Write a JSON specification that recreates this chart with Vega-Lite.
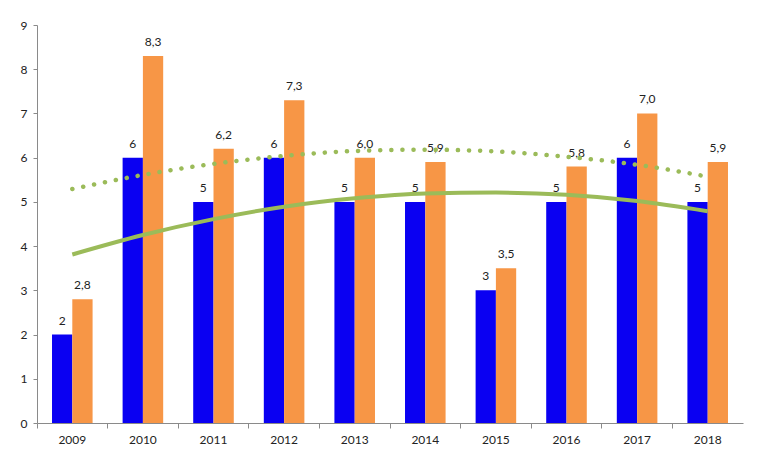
{
  "$schema": "https://vega.github.io/schema/vega-lite/v6.json",
  "width": 706,
  "height": 398,
  "autosize": {"type": "none"},
  "padding": {"left": 37, "top": 25, "right": 22, "bottom": 40},
  "background": "white",
  "config": {
    "view": {"stroke": null},
    "font": "Lato",
    "axis": {
      "labelFont": "Lato",
      "labelFontSize": 12,
      "labelColor": "#222222",
      "domainColor": "#8a8a8a",
      "tickColor": "#8a8a8a",
      "grid": false,
      "title": null
    }
  },
  "datasets": {
    "bars": [
      {"year": "2009", "series": "a", "value": 2},
      {"year": "2009", "series": "b", "value": 2.8},
      {"year": "2010", "series": "a", "value": 6},
      {"year": "2010", "series": "b", "value": 8.3},
      {"year": "2011", "series": "a", "value": 5},
      {"year": "2011", "series": "b", "value": 6.2},
      {"year": "2012", "series": "a", "value": 6},
      {"year": "2012", "series": "b", "value": 7.3},
      {"year": "2013", "series": "a", "value": 5},
      {"year": "2013", "series": "b", "value": 6.0},
      {"year": "2014", "series": "a", "value": 5},
      {"year": "2014", "series": "b", "value": 5.9},
      {"year": "2015", "series": "a", "value": 3},
      {"year": "2015", "series": "b", "value": 3.5},
      {"year": "2016", "series": "a", "value": 5},
      {"year": "2016", "series": "b", "value": 5.8},
      {"year": "2017", "series": "a", "value": 6},
      {"year": "2017", "series": "b", "value": 7.0},
      {"year": "2018", "series": "a", "value": 5},
      {"year": "2018", "series": "b", "value": 5.9}
    ],
    "trend": [
      {"year": "2009", "a": 3.81, "b": 5.29},
      {"year": "2010", "a": 4.25, "b": 5.61},
      {"year": "2011", "a": 4.61, "b": 5.86},
      {"year": "2012", "a": 4.89, "b": 6.04},
      {"year": "2013", "a": 5.08, "b": 6.15},
      {"year": "2014", "a": 5.19, "b": 6.18},
      {"year": "2015", "a": 5.21, "b": 6.14},
      {"year": "2016", "a": 5.16, "b": 6.02},
      {"year": "2017", "a": 5.02, "b": 5.84},
      {"year": "2018", "a": 4.79, "b": 5.57}
    ]
  },
  "encoding": {
    "x": {
      "field": "year",
      "type": "ordinal",
      "scale": {"paddingInner": 0, "paddingOuter": 0},
      "axis": {"labelAngle": 0, "bandPosition": 0, "tickSize": 5, "labelPadding": 6, "ticks": true}
    },
    "y": {
      "type": "quantitative",
      "scale": {"domain": [0, 9]},
      "axis": {"values": [0, 1, 2, 3, 4, 5, 6, 7, 8, 9], "tickSize": 4, "labelPadding": 6}
    }
  },
  "layer": [
    {
      "data": {"name": "bars"},
      "mark": {"type": "bar"},
      "encoding": {
        "y": {"field": "value", "type": "quantitative"},
        "xOffset": {"field": "series", "type": "nominal", "scale": {"paddingInner": 0, "paddingOuter": 0.74}},
        "color": {
          "field": "series",
          "type": "nominal",
          "scale": {"domain": ["a", "b"], "range": ["#0a00f2", "#f79646"]},
          "legend": null
        }
      }
    },
    {
      "data": {"name": "bars"},
      "transform": [
        {"calculate": "datum.series == 'a' ? format(datum.value, 'd') : replace(format(datum.value, '.1f'), '.', ',')", "as": "label"}
      ],
      "mark": {"type": "text", "baseline": "bottom", "dy": -7, "fontSize": 12, "color": "#222222"},
      "encoding": {
        "y": {"field": "value", "type": "quantitative"},
        "xOffset": {"field": "series", "type": "nominal"},
        "text": {"field": "label"}
      }
    },
    {
      "data": {"name": "trend"},
      "mark": {"type": "line", "interpolate": "monotone", "color": "#9bbb59", "strokeWidth": 4},
      "encoding": {"y": {"field": "a", "type": "quantitative"}}
    },
    {
      "data": {"name": "trend"},
      "mark": {"type": "line", "interpolate": "monotone", "color": "#9bbb59", "strokeWidth": 4.5, "strokeCap": "round", "strokeDash": [0.1, 11]},
      "encoding": {"y": {"field": "b", "type": "quantitative"}}
    }
  ]
}
